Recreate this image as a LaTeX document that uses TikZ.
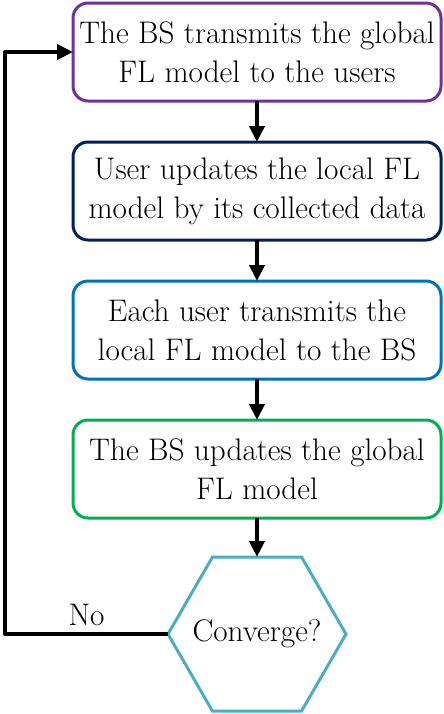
\documentclass[tikz,border=0pt]{standalone}
\usetikzlibrary{arrows.meta,positioning,shapes.geometric}
\definecolor{bsPurple}{HTML}{7030A0}
\definecolor{userNavy}{HTML}{002060}
\definecolor{upBlue}{HTML}{0070C0}
\definecolor{aggGreen}{HTML}{00B050}
\definecolor{convTeal}{HTML}{4BACC6}
\begin{document}
\begin{tikzpicture}[x=0.5pt, y=-0.5pt,
    every node/.style={font=\fontsize{15.6}{19.5}\selectfont},
    stepbox/.style={draw, rounded corners=7.5pt, line width=1.5pt, minimum width=184pt,
        minimum height=49pt, align=center, inner sep=0pt, outer sep=0pt},
    flow/.style={line width=2pt, -{Triangle[length=8pt,width=7.5pt]}}]
    \useasboundingbox (0,0) rectangle (444,714);
    \node[stepbox, draw=bsPurple] (bcast) at (257,52) {The BS transmits the global\\FL model to the users};
    \node[stepbox, draw=userNavy, below=20.5pt of bcast] (local) {User updates the local FL\\model by its collected data};
    \node[stepbox, draw=upBlue, below=20.5pt of local] (upload) {Each user transmits the\\local FL model to the BS};
    \node[stepbox, draw=aggGreen, below=20.5pt of upload] (agg) {The BS updates the global\\FL model};
    % hexagon drawn empty so its size is fixed, label on top
    \node[regular polygon, regular polygon sides=6, draw=convTeal, line width=1.5pt,
        minimum size=89pt, inner sep=0pt, outer sep=0pt, below=19.5pt of agg] (conv) {};
    \node at (conv) {Converge?};
    \coordinate (loop) at (5,0);
    \draw[flow] (bcast) -- (local);
    \draw[flow] (local) -- (upload);
    \draw[flow] (upload) -- (agg);
    \draw[flow] (agg) -- (conv);
    \draw[flow, line join=round] (conv.west) -- node[above] {No} (conv.west -| loop) |- (bcast.west);
\end{tikzpicture}
\end{document}
